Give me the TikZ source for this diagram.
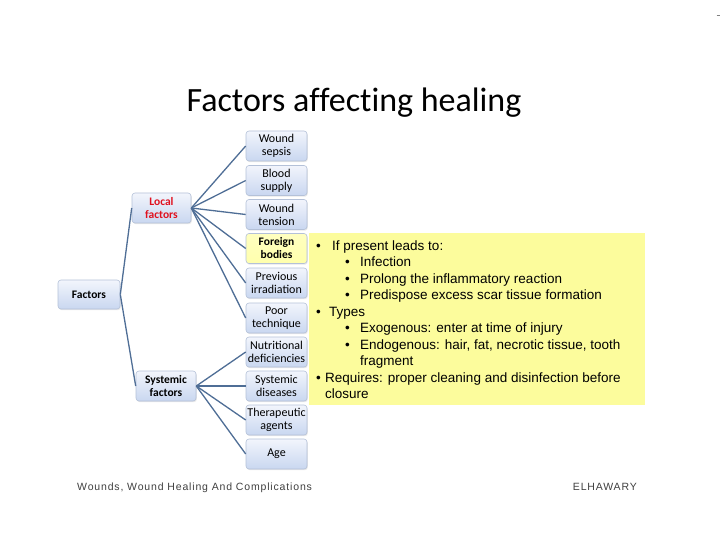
\documentclass[tikz,border=0pt]{standalone}
\usepackage{fontspec}
\setmainfont{Carlito}
\newfontfamily\titlef[Ligatures=NoCommon]{Carlito}
\newfontfamily\arialf{Liberation Sans}
\newfontfamily\footf[LetterSpace=8]{Liberation Sans}
\usetikzlibrary{shadows}
\definecolor{linec}{HTML}{4F6E96}
\definecolor{boxtop}{HTML}{F2F5FC}
\definecolor{boxbot}{HTML}{C9D7F0}
\definecolor{boxline}{HTML}{B4C1D8}
\definecolor{ylw}{HTML}{FCFC9C}
\definecolor{ylwbox}{HTML}{FFFFC0}
\definecolor{redtxt}{HTML}{E0101E}
\begin{document}
\begin{tikzpicture}[x=1pt,y=-1pt,
  boxn/.style={rounded corners=3pt, draw=boxline, line width=0.6pt,
    top color=boxtop, bottom color=boxbot, minimum width=61pt, minimum height=30pt,
    inner sep=1pt, align=center, font=\fontsize{12}{13}\selectfont,
    drop shadow={opacity=0.18, shadow xshift=0.8pt, shadow yshift=-1.2pt}},
  boldn/.style={boxn, font=\fontsize{11.5}{13}\selectfont\bfseries},
  conn/.style={draw=linec, line width=1.3pt},
  yl/.style={anchor=base west, inner sep=0pt, font=\arialf\fontsize{13.5}{16}\selectfont},
  ]
\useasboundingbox (0,0) rectangle (720,540);
\fill[white] (0,0) rectangle (720,540);
\draw[gray, line width=0.8pt] (716.5,15.5) -- (720,15.5);

\node[inner sep=0pt, anchor=base, font=\titlef\fontsize{34}{36}\selectfont] (title) at (354,112) {Factors affecting healing};

% main boxes
\node[boldn, minimum width=62pt, minimum height=29pt] (fac) at (89,294.5) {Factors};
\node[boldn, minimum width=59pt, text=redtxt] (loc) at (161.5,208) {Local\\factors};
\node[boldn, minimum width=60pt] (sys) at (166,386) {Systemic\\factors};

% yellow box
\fill[ylw] (309,233) rectangle (645,405);

% children
\node[boxn] (c1) at (276.5,146) {Wound\\sepsis};
\node[boxn] (c2) at (276.5,180.5) {Blood\\supply};
\node[boxn] (c3) at (276.5,214.5) {Wound\\tension};
\node[boxn, top color=ylwbox, bottom color=ylwbox!90!yellow, font=\fontsize{11.5}{13}\selectfont\bfseries] (c4) at (276.5,248.5) {Foreign\\bodies};
\node[boxn] (c5) at (276.5,283) {Previous\\irradiation};
\node[boxn] (c6) at (276.5,318) {Poor\\technique};
\node[boxn] (c7) at (276.5,352) {Nutritional\\deficiencies};
\node[boxn] (c8) at (276.5,386) {Systemic\\diseases};
\node[boxn] (c9) at (276.5,420) {Therapeutic\\agents};
\node[boxn] (c10) at (276.5,454) {Age};

% connectors
\draw[conn] (fac.east) -- (loc.west);
\draw[conn] (fac.east) -- (sys.west);
\foreach \c in {c1,c2,c3,c4,c5,c6} \draw[conn] (loc.east) -- (\c.west);
\foreach \c in {c7,c8,c9,c10} \draw[conn] (sys.east) -- (\c.west);

% yellow text
\node[yl] (b1) at (316,250) {•};
\node[yl] (t1) at (332,250) {If present leads to:};
\node[yl] (b2) at (345,266.5) {•};
\node[yl] (t2) at (360,266.5) {Infection};
\node[yl] (b3) at (345,283) {•};
\node[yl] (t3) at (360,283) {Prolong the inflammatory reaction};
\node[yl] (b4) at (345,299.5) {•};
\node[yl] (t4) at (360,299.5) {Predispose excess scar tissue formation};
\node[yl] (b5) at (316,316) {•};
\node[yl] (t5) at (329,316) {Types};
\node[yl] (b6) at (345,332.5) {•};
\node[yl] (t6) at (360,332.5) {Exogenous: enter at time of injury};
\node[yl] (b7) at (345,349) {•};
\node[yl] (t7) at (360,349) {Endogenous: hair, fat, necrotic tissue, tooth};
\node[yl] (t8) at (360,365.5) {fragment};
\node[yl] (b9) at (316,382) {•};
\node[yl] (t9) at (325,382) {Requires: proper cleaning and disinfection before};
\node[yl] (t10) at (325,398.5) {closure};

% footer
\node[anchor=base west, inner sep=0pt, text=black!75, font=\footf\fontsize{10.5}{12}\selectfont] (f1) at (77,490) {Wounds, Wound Healing And Complications};
\node[anchor=base east, inner sep=0pt, text=black!75, font=\footf\fontsize{10.5}{12}\selectfont] (f2) at (637,490) {ELHAWARY};
\end{tikzpicture}
\end{document}
